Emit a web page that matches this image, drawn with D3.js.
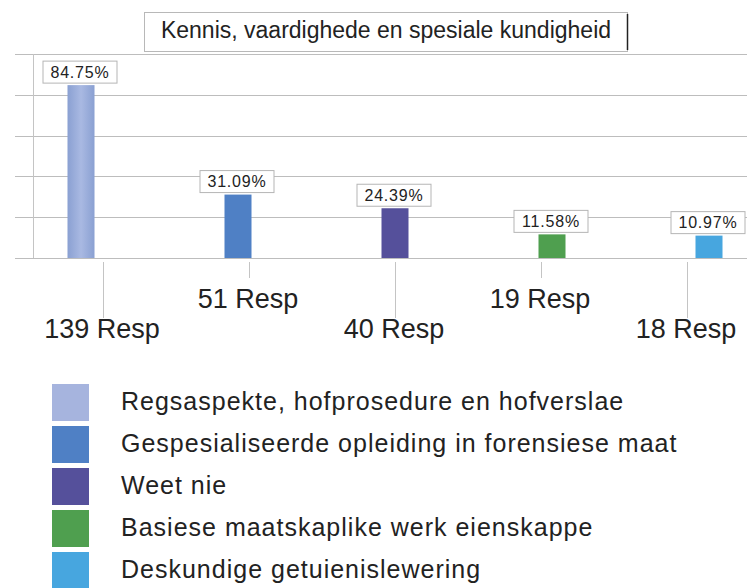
<!DOCTYPE html>
<html>
<head>
<meta charset="utf-8">
<script src="https://cdn.jsdelivr.net/npm/d3@7"></script>
<style>
  body { margin: 0; background: #fff; }
  svg { display: block; font-family: "Liberation Sans", Arial, sans-serif; }
</style>
</head>
<body>
<svg id="chart" width="747" height="588"></svg>
<script>
const title = 'Kennis, vaardighede en spesiale kundigheid'
const categories = [
  'Regsaspekte, hofprosedure en hofverslae',
  'Gespesialiseerde opleiding in forensiese maat',
  'Weet nie',
  'Basiese maatskaplike werk eienskappe',
  'Deskundige getuienislewering',
]
const percents = [84.75, 31.09, 24.39, 11.58, 10.97]
const respLabels = ['139 Resp', '51 Resp', '40 Resp', '19 Resp', '18 Resp']
const colors = ['#98acda', '#4f80c5', '#55509b', '#4f9f4f', '#47a6df']
const gridTicks = [0, 20, 40, 60, 80, 100]

const svg = d3.select('#chart')

const y = d3.scaleLinear().domain([0, 100]).range([258, 54])
const x = d3.scalePoint().domain(d3.range(5)).range([81, 709])
// the category labels sit a bit off the bars in the original
const xl = d3.scalePoint().domain(d3.range(5)).range([103, 687])

// grid
svg.append('g')
  .selectAll('line')
  .data(gridTicks)
  .join('line')
  .attr('x1', 15)
  .attr('x2', 747)
  .attr('y1', (d) => Math.round(y(d)) + 0.5)
  .attr('y2', (d) => Math.round(y(d)) + 0.5)
  .attr('stroke', '#bdbdbd')

svg.append('line')
  .attr('x1', 33.5).attr('x2', 33.5)
  .attr('y1', y(100)).attr('y2', y(0))
  .attr('stroke', '#c4c4c4')

// bars
const barW = 27
const grad = svg.append('defs').append('linearGradient')
  .attr('id', 'g0')
grad.append('stop').attr('offset', '0%').attr('stop-color', '#8aa0d2')
grad.append('stop').attr('offset', '50%').attr('stop-color', '#a9b9e2')
grad.append('stop').attr('offset', '100%').attr('stop-color', '#8aa0d2')

svg.append('g')
  .selectAll('rect')
  .data(percents)
  .join('rect')
  .attr('x', (d, i) => x(i) - barW / 2)
  .attr('y', (d) => y(d))
  .attr('width', barW)
  .attr('height', (d) => y(0) - y(d))
  .attr('fill', (d, i) => (i === 0 ? 'url(#g0)' : colors[i]))

// value boxes
const vals = svg.append('g')
  .selectAll('g')
  .data(percents)
  .join('g')
  .attr('transform', (d, i) => `translate(${x(i) - 1},${y(d) - 13})`)
vals.append('rect')
  .attr('x', -37).attr('y', -11)
  .attr('width', 74).attr('height', 22)
  .attr('fill', '#fff')
  .attr('stroke', '#b5b5b5')
vals.append('text')
  .attr('text-anchor', 'middle')
  .attr('dy', '0.36em')
  .attr('font-size', 16)
  .attr('letter-spacing', 0.8)
  .attr('fill', '#222')
  .text((d) => d.toFixed(2) + '%')

// category ticks and staggered labels
const cats = svg.append('g')
  .selectAll('g')
  .data(respLabels)
  .join('g')
  .attr('transform', (d, i) => `translate(${xl(i)},0)`)
cats.append('line')
  .attr('x1', 0.5).attr('x2', 0.5)
  .attr('y1', 262)
  .attr('y2', (d, i) => (i % 2 ? 278 : 318))
  .attr('stroke', '#c4c4c4')
cats.append('text')
  .attr('x', -1)
  .attr('y', (d, i) => (i % 2 ? 308 : 338))
  .attr('text-anchor', 'middle')
  .attr('font-size', 27)
  .attr('fill', '#222')
  .text((d) => d)

// title
const tg = svg.append('g')
tg.append('rect')
  .attr('x', 144.5).attr('y', 12.5)
  .attr('width', 483).attr('height', 39)
  .attr('fill', '#fff')
  .attr('stroke', '#b8b8b8')
tg.append('line')
  .attr('x1', 627.5).attr('x2', 627.5)
  .attr('y1', 14).attr('y2', 50)
  .attr('stroke', '#222').attr('stroke-width', 1.5)
tg.append('text')
  .attr('x', 386).attr('y', 38)
  .attr('text-anchor', 'middle')
  .attr('font-size', 23)
  .attr('fill', '#222')
  .text(title)

// legend
const leg = svg.append('g')
  .selectAll('g')
  .data(categories)
  .join('g')
  .attr('transform', (d, i) => `translate(52,${384 + i * 42})`)
leg.append('rect')
  .attr('width', 37).attr('height', 37)
  .attr('fill', (d, i) => (i === 0 ? '#a6b4de' : colors[i]))
leg.append('text')
  .attr('x', 69).attr('y', 26)
  .attr('font-size', 25)
  .attr('letter-spacing', 1)
  .attr('fill', '#222')
  .text((d) => d)
</script>
</body>
</html>
